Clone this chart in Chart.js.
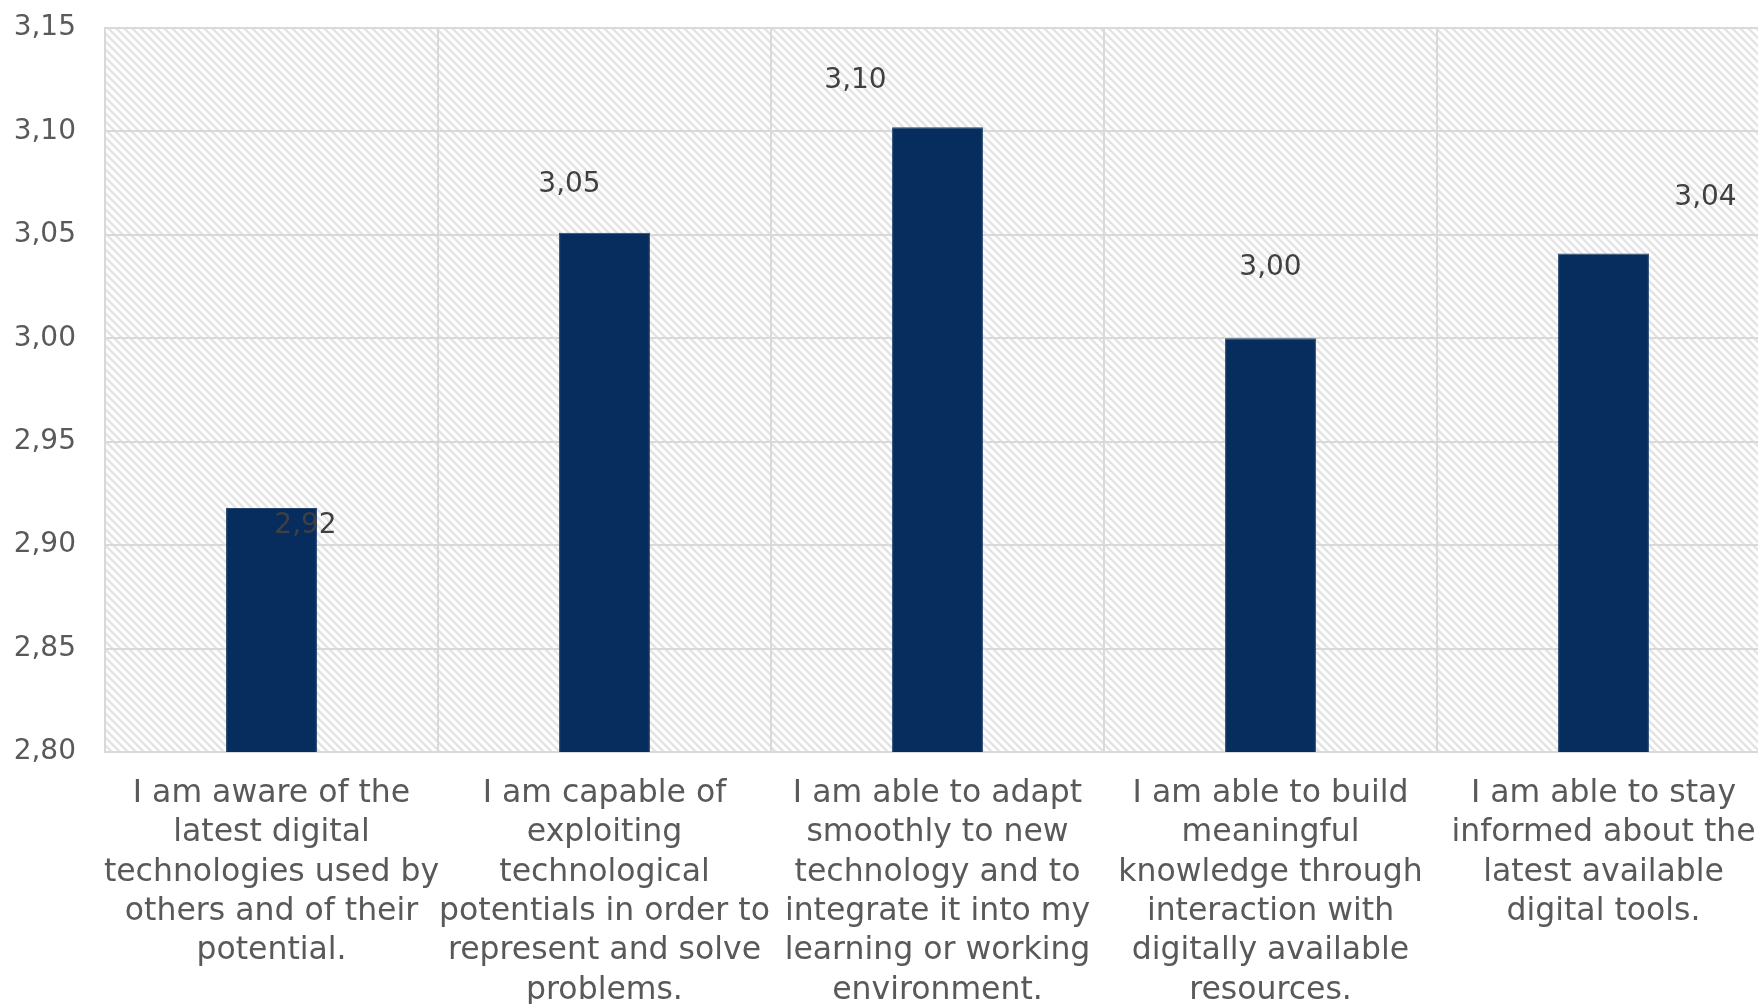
<!DOCTYPE html>
<html>
<head>
<meta charset="utf-8">
<script src="https://cdn.jsdelivr.net/npm/chart.js@4"></script>
<style>
  html, body { margin: 0; padding: 0; background: #fff; overflow: hidden; }
  #wrap { position: absolute; left: 0; top: 0; }
</style>
</head>
<body>
<div id="wrap"><canvas id="skillChart" width="1772" height="1040"></canvas></div>
<script>
const categories = [
  ["I am aware of the", "latest digital", "technologies used by", "others and of their", "potential."],
  ["I am capable of", "exploiting", "technological", "potentials in order to", "represent and solve", "problems."],
  ["I am able to adapt", "smoothly to new", "technology and to", "integrate it into my", "learning or working", "environment."],
  ["I am able to build", "meaningful", "knowledge through", "interaction with", "digitally available", "resources."],
  ["I am able to stay", "informed about the", "latest available", "digital tools."],
];
const scores = [2.918, 3.051, 3.102, 3.000, 3.041];
const yMin = 2.80;
const yMax = 3.15;
const yStep = 0.05;

// where Excel left each value label, relative to the top centre of its bar
const labelOffsets = [[34, 18], [-35, -48], [-82, -47], [0, -71], [102, -56]];

const FONT = "'DejaVu Sans', sans-serif";

function commaNumber(v) {
  return v.toFixed(2).replace(".", ",");
}

function makeHatch(ctx) {
  const pc = document.createElement("canvas");
  pc.width = 8;
  pc.height = 8;
  const p = pc.getContext("2d");
  p.fillStyle = "#ffffff";
  p.fillRect(0, 0, 8, 8);
  p.strokeStyle = "#e3e3e3";
  p.lineWidth = 2.4;
  p.beginPath();
  p.moveTo(-2, -2); p.lineTo(10, 10);
  p.moveTo(-6, 2); p.lineTo(2, 10);
  p.moveTo(6, -2); p.lineTo(10, 2);
  p.stroke();
  return ctx.createPattern(pc, "repeat");
}

const hatchBackground = {
  id: "hatchBackground",
  beforeDraw(chart) {
    const { ctx, chartArea } = chart;
    ctx.save();
    ctx.fillStyle = makeHatch(ctx);
    ctx.fillRect(chartArea.left, chartArea.top, chartArea.right - chartArea.left, chartArea.bottom - chartArea.top);
    ctx.restore();
  },
};

const valueLabels = {
  id: "valueLabels",
  afterDatasetsDraw(chart) {
    const { ctx } = chart;
    const bars = chart.getDatasetMeta(0).data;
    ctx.save();
    ctx.font = "28px " + FONT;
    ctx.fillStyle = "#404040";
    ctx.textAlign = "center";
    ctx.textBaseline = "middle";
    bars.forEach((bar, i) => {
      const off = labelOffsets[i];
      ctx.fillText(commaNumber(scores[i]), bar.x + off[0], bar.y + off[1]);
    });
    ctx.restore();
  },
};

document.addEventListener("DOMContentLoaded", () => {
  const ctx = document.getElementById("skillChart").getContext("2d");
  new Chart(ctx, {
    type: "bar",
    data: {
      labels: categories,
      datasets: [
        {
          data: scores,
          backgroundColor: "#062d5e",
          borderColor: "#27476f",
          borderWidth: 1,
          barPercentage: 0.273,
          categoryPercentage: 1,
        },
      ],
    },
    options: {
      responsive: false,
      animation: false,
      layout: { padding: { top: 28, right: 2, left: 0, bottom: 0 } },
      plugins: {
        legend: { display: false },
        tooltip: { enabled: false },
      },
      scales: {
        x: {
          afterFit: (s) => {
            s.height = 288;
            s.paddingLeft = 0;
            s.paddingRight = 0;
          },
          grid: { color: "#d9d9d9", lineWidth: 2, drawTicks: false, offset: true },
          border: { color: "#d9d9d9", width: 2 },
          ticks: {
            color: "#595959",
            font: { family: FONT, size: 31.5, lineHeight: 1.25 },
            padding: 22,
            maxRotation: 0,
            autoSkip: false,
          },
        },
        y: {
          min: yMin,
          max: yMax,
          afterFit: (s) => {
            s.width = 105;
            s.paddingTop = 0;
            s.paddingBottom = 0;
          },
          grid: { color: "#d9d9d9", lineWidth: 2, drawTicks: false },
          border: { color: "#d9d9d9", width: 2 },
          ticks: {
            stepSize: yStep,
            color: "#595959",
            font: { family: FONT, size: 28 },
            padding: 29,
            callback: (v) => commaNumber(v),
          },
        },
      },
    },
    plugins: [hatchBackground, valueLabels],
  });
});
</script>
</body>
</html>
